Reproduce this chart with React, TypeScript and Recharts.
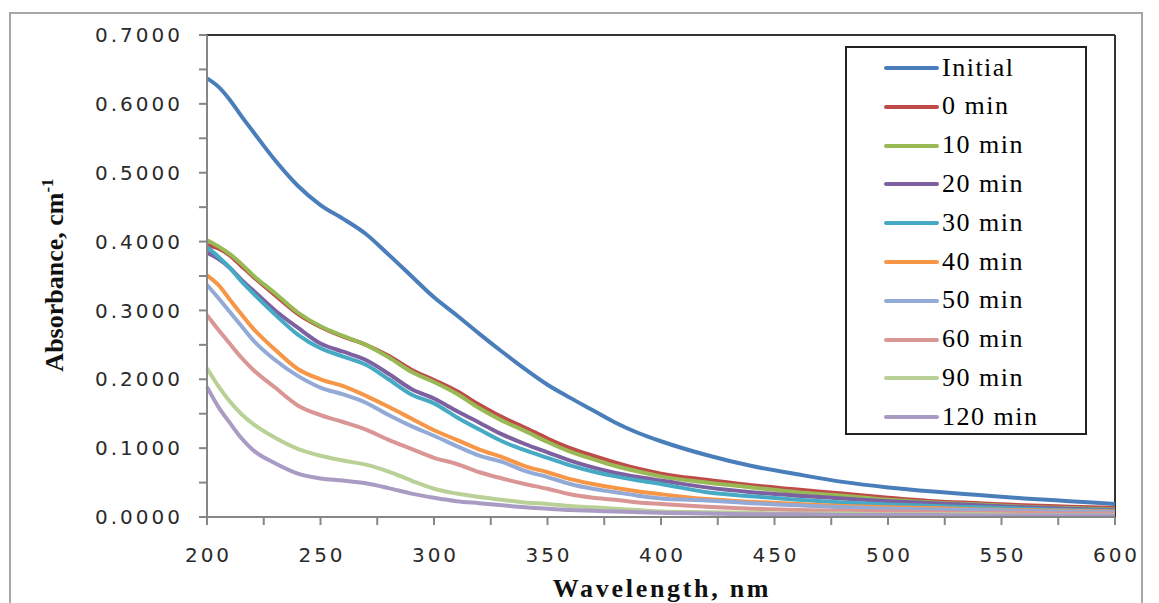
import React from "react";
import { LineChart, Line, XAxis, YAxis, ReferenceLine } from "recharts";

const wavelengths = [200, 205, 210, 215, 220, 230, 240, 250, 260, 270, 280, 290, 300, 310, 320, 330, 340, 350, 360, 370, 380, 390, 400, 420, 440, 460, 480, 500, 520, 540, 560, 580, 600];

const initial = [0.637, 0.625, 0.606, 0.583, 0.561, 0.518, 0.481, 0.453, 0.433, 0.411, 0.381, 0.35, 0.319, 0.293, 0.266, 0.24, 0.215, 0.192, 0.173, 0.155, 0.137, 0.122, 0.11, 0.09, 0.074, 0.062, 0.051, 0.043, 0.037, 0.032, 0.027, 0.023, 0.019];
const min0 = [0.395, 0.39, 0.38, 0.365, 0.35, 0.322, 0.295, 0.276, 0.262, 0.25, 0.234, 0.214, 0.199, 0.183, 0.163, 0.145, 0.13, 0.114, 0.1, 0.089, 0.079, 0.07, 0.063, 0.054, 0.046, 0.04, 0.034, 0.028, 0.023, 0.02, 0.017, 0.015, 0.013];
const min10 = [0.402, 0.393, 0.382, 0.368, 0.352, 0.325, 0.297, 0.277, 0.263, 0.25, 0.232, 0.211, 0.196, 0.179, 0.158, 0.14, 0.125, 0.109, 0.095, 0.084, 0.074, 0.066, 0.059, 0.05, 0.043, 0.036, 0.031, 0.025, 0.021, 0.018, 0.015, 0.013, 0.011];
const min20 = [0.384, 0.375, 0.362, 0.345, 0.33, 0.3, 0.275, 0.252, 0.24, 0.228, 0.208, 0.186, 0.172, 0.154, 0.137, 0.12, 0.106, 0.094, 0.082, 0.072, 0.064, 0.058, 0.053, 0.043, 0.036, 0.031, 0.027, 0.023, 0.02, 0.017, 0.014, 0.012, 0.01];
const min30 = [0.392, 0.378, 0.362, 0.343, 0.326, 0.294, 0.265, 0.245, 0.233, 0.221, 0.2, 0.178, 0.165, 0.145, 0.127, 0.11, 0.097, 0.086, 0.075, 0.066, 0.059, 0.053, 0.048, 0.036, 0.03, 0.025, 0.021, 0.018, 0.016, 0.014, 0.012, 0.01, 0.009];
const min40 = [0.351, 0.337, 0.316, 0.295, 0.275, 0.243, 0.215, 0.2, 0.19, 0.176, 0.16, 0.143, 0.126, 0.112, 0.098, 0.087, 0.074, 0.065, 0.055, 0.048, 0.042, 0.037, 0.033, 0.026, 0.022, 0.019, 0.016, 0.014, 0.013, 0.011, 0.01, 0.009, 0.008];
const min50 = [0.337, 0.318, 0.298, 0.278, 0.258, 0.228, 0.205, 0.188, 0.178, 0.166, 0.148, 0.132, 0.118, 0.103, 0.089, 0.08, 0.067, 0.058, 0.048, 0.041, 0.036, 0.031, 0.027, 0.024, 0.02, 0.017, 0.014, 0.012, 0.011, 0.01, 0.009, 0.008, 0.007];
const min60 = [0.293, 0.272, 0.252, 0.232, 0.215, 0.188, 0.162, 0.148, 0.138, 0.127, 0.112, 0.099, 0.086, 0.077, 0.065, 0.056, 0.048, 0.041, 0.033, 0.028, 0.025, 0.021, 0.019, 0.015, 0.012, 0.01, 0.009, 0.008, 0.007, 0.006, 0.006, 0.005, 0.005];
const min90 = [0.216, 0.19, 0.168, 0.15, 0.136, 0.115, 0.099, 0.089, 0.082, 0.076, 0.066, 0.053, 0.041, 0.034, 0.029, 0.025, 0.021, 0.019, 0.016, 0.014, 0.012, 0.01, 0.008, 0.007, 0.006, 0.005, 0.005, 0.004, 0.004, 0.004, 0.003, 0.003, 0.003];
const min120 = [0.189, 0.16, 0.137, 0.115, 0.098, 0.078, 0.063, 0.056, 0.053, 0.049, 0.042, 0.034, 0.028, 0.023, 0.02, 0.017, 0.014, 0.012, 0.01, 0.009, 0.008, 0.007, 0.006, 0.005, 0.004, 0.004, 0.003, 0.003, 0.003, 0.002, 0.002, 0.002, 0.002];

const seriesNames = ["Initial", "0 min", "10 min", "20 min", "30 min", "40 min", "50 min", "60 min", "90 min", "120 min"];
const seriesValues = [initial, min0, min10, min20, min30, min40, min50, min60, min90, min120];
const seriesColors = ["#4A7EBB", "#BE4B48", "#98B954", "#7D60A0", "#46AAC5", "#F79646", "#93A9D6", "#D99694", "#B9D196", "#A99BC4"];

const yTicks = [0, 0.05, 0.1, 0.15, 0.2, 0.25, 0.3, 0.35, 0.4, 0.45, 0.5, 0.55, 0.6, 0.65, 0.7];
const xTicks = [200, 225, 250, 275, 300, 325, 350, 375, 400, 425, 450, 475, 500, 525, 550, 575, 600];

const data = wavelengths.map((w, i) => {
  const row: Record<string, number> = { w };
  seriesValues.forEach((vals, s) => {
    row["s" + s] = vals[i];
  });
  return row;
});

const tickFont = { fontFamily: "DejaVu Sans, Verdana, sans-serif", fontSize: 20, fill: "#2a2a2a", letterSpacing: 3 };

const YTick = (props: any) => {
  const { x, y, payload } = props;
  const v = payload.value;
  if (Math.round(v * 20) % 2 !== 0) return <g />;
  return (
    <text x={x + 3} y={y} textAnchor="end" dy="0.36em" {...tickFont}>
      {v.toFixed(4)}
    </text>
  );
};

const XTick = (props: any) => {
  const { x, y, payload } = props;
  const v = payload.value;
  if (v % 50 !== 0) return <g />;
  return (
    <text x={x + 1.5} y={y} textAnchor="middle" dy="0.71em" {...tickFont}>
      {String(v)}
    </text>
  );
};

export default function App() {
  return (
    <div style={{ position: "absolute", left: 0, top: 0, width: 1159, height: 603, background: "#fff", overflow: "hidden" }}>
      <div
        style={{
          position: "absolute",
          left: 9,
          top: 12,
          width: 1134,
          height: 640,
          border: "2px solid #a6a6a6",
          boxSizing: "border-box",
        }}
      />
      <div style={{ position: "absolute", left: 0, top: 0 }}>
        <LineChart width={1159} height={603} data={data} margin={{ top: 35, right: 44, left: 0, bottom: 0 }}>
          <XAxis
            dataKey="w"
            type="number"
            domain={[200, 600]}
            ticks={xTicks}
            interval={0}
            height={86}
            tickSize={8}
            tickMargin={23}
            tick={<XTick />}
            axisLine={{ stroke: "#868686", strokeWidth: 2 }}
            tickLine={{ stroke: "#868686", strokeWidth: 2 }}
          />
          <YAxis
            type="number"
            domain={[0, 0.7]}
            ticks={yTicks}
            interval={0}
            width={207}
            tickSize={8}
            tickMargin={19}
            tick={<YTick />}
            axisLine={{ stroke: "#868686", strokeWidth: 2 }}
            tickLine={{ stroke: "#868686", strokeWidth: 2 }}
          />
          <ReferenceLine y={0.7} stroke="#333" strokeWidth={2} />
          <ReferenceLine x={600} stroke="#333" strokeWidth={2} />
          {seriesNames.map((name, s) => (
            <Line
              key={name}
              dataKey={"s" + s}
              name={name}
              type="monotone"
              stroke={seriesColors[s]}
              strokeWidth={4}
              dot={false}
              isAnimationActive={false}
            />
          ))}
        </LineChart>
      </div>
      <svg width={1159} height={603} style={{ position: "absolute", left: 0, top: 0, pointerEvents: "none" }}>
        <text
          transform="translate(63,275) rotate(-90)"
          textAnchor="middle"
          fontFamily="Liberation Serif, Times New Roman, serif"
          fontWeight="bold"
          fontSize={26}
          fill="#111"
        >
          Absorbance, cm
          <tspan dy={-10} fontSize={17}>-1</tspan>
        </text>
        <text
          x={662}
          y={597}
          textAnchor="middle"
          fontFamily="Liberation Serif, Times New Roman, serif"
          fontWeight="bold"
          fontSize={26}
          letterSpacing={2.7}
          fill="#111"
        >
          Wavelength, nm
        </text>
      </svg>
      <div
        style={{
          position: "absolute",
          left: 845,
          top: 46,
          width: 242,
          height: 389,
          border: "2px solid #222",
          boxSizing: "border-box",
          background: "#fff",
        }}
      >
        {seriesNames.map((name, i) => (
          <div
            key={name}
            style={{
              position: "absolute",
              left: 0,
              top: 0.6 + i * 38.8,
              height: 38.8,
              display: "flex",
              alignItems: "center",
            }}
          >
            <div style={{ marginLeft: 37, width: 55, height: 4, borderRadius: 2, background: seriesColors[i] }} />
            <span
              style={{
                marginLeft: 3,
                fontFamily: "Liberation Serif, Times New Roman, serif",
                fontSize: 26,
                letterSpacing: 1.5,
                color: "#000",
                lineHeight: "38.8px",
                whiteSpace: "nowrap",
              }}
            >
              {name}
            </span>
          </div>
        ))}
      </div>
    </div>
  );
}
